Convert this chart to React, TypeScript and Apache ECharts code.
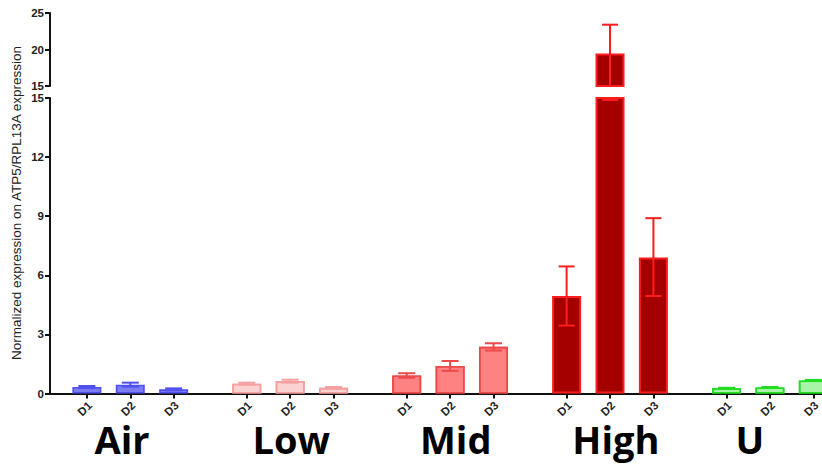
import React, { useEffect, useRef } from 'react';
import * as echarts from 'echarts';

// ---- data ----
const groups = ['Air', 'Low', 'Mid', 'High', 'U'];
const doses = ['D1', 'D2', 'D3'];
const airMeans = [0.33, 0.45, 0.21];
const airLo = [0.28, 0.35, 0.16];
const airHi = [0.38, 0.55, 0.26];
const lowMeans = [0.5, 0.63, 0.29];
const lowLo = [0.45, 0.55, 0.25];
const lowHi = [0.55, 0.7, 0.33];
const midMeans = [0.92, 1.4, 2.37];
const midLo = [0.8, 1.15, 2.18];
const midHi = [1.03, 1.65, 2.55];
const highMeans = [4.95, 19.45, 6.9];
const highLo = [3.45, 14.9, 4.95];
const highHi = [6.45, 23.4, 8.9];
const uMeans = [0.27, 0.31, 0.66];
const uLo = [0.25, 0.29, 0.63];
const uHi = [0.29, 0.33, 0.69];
const lowerTicks = [0, 3, 6, 9, 12, 15];
const upperTicks = [15, 20, 25];
const groupLabelX = [0.81, 4.71, 8.5, 12.19, 15.28];
const yTitle = 'Normalized expression on ATP5/RPL13A expression';

const means = [airMeans, lowMeans, midMeans, highMeans, uMeans];
const los = [airLo, lowLo, midLo, highLo, uLo];
const his = [airHi, lowHi, midHi, highHi, uHi];

// ---- styles ----
const fills = ['#7b7bf6', '#fbd2d2', '#ff8282', '#a40000', '#a8f5a8'];
const borders = ['#5050ee', '#f5a0a0', '#ee4a4a', '#ff1c1c', '#22dd22'];
const decals: any[] = [
  null,
  { symbol: 'circle', symbolSize: 0.5, color: 'rgba(235,150,150,0.45)', dashArrayX: [2, 2], dashArrayY: [2, 2] },
  { symbol: 'circle', symbolSize: 0.5, color: 'rgba(215,60,60,0.35)', dashArrayX: [2, 2], dashArrayY: [2, 2] },
  null,
  { symbol: 'circle', symbolSize: 0.5, color: 'rgba(60,200,60,0.35)', dashArrayX: [2, 2], dashArrayY: [2, 2] },
];
const GROUP_STEP = 3.685;
const X_MIN = -0.85;
const X_MAX = 16.94;
const FONT = '"Liberation Sans", Arial, sans-serif';

function pos(g: number, i: number) {
  return g * GROUP_STEP + i;
}

export default function App() {
  const ref = useRef<HTMLDivElement>(null);
  useEffect(() => {
    if (!ref.current) return;
    const chart = echarts.init(ref.current, undefined, { renderer: 'svg' });

    const tickPositions: number[] = [];
    const tickLabelData: number[][] = [];
    const barData: any[] = [];
    const barDataTop: any[] = [];
    const errData: number[][] = [];
    groups.forEach((_, g) => {
      doses.forEach((d, i) => {
        const x = pos(g, i);
        tickPositions.push(x);
        tickLabelData.push([x, 0, i]);
        const item = {
          value: [x, means[g][i]],
          itemStyle: {
            color: fills[g],
            borderColor: borders[g],
            borderWidth: g === 3 ? 2 : 1.6,
            ...(decals[g] ? { decal: decals[g] } : {}),
          },
        };
        barData.push(item);
        if (means[g][i] > 15) barDataTop.push(item);
        errData.push([x, los[g][i], his[g][i], g]);
      });
    });

    const errSeries = (idx: number, vmin: number, vmax: number) => ({
      type: 'custom',
      xAxisIndex: idx,
      yAxisIndex: idx,
      z: 5,
      data: errData,
      renderItem: (params: any, api: any) => {
        const x = api.value(0);
        const lo0 = api.value(1);
        const hi0 = api.value(2);
        const g = api.value(3);
        const lo = Math.max(lo0, vmin);
        const hi = Math.min(hi0, vmax);
        if (lo >= hi) return null;
        const pLo = api.coord([x, lo]);
        const pHi = api.coord([x, hi]);
        const half = g === 3 ? 8 : 8.5;
        const style = { stroke: borders[g], lineWidth: 2 };
        const children: any[] = [
          { type: 'line', shape: { x1: pLo[0], y1: pLo[1], x2: pHi[0], y2: pHi[1] }, style },
        ];
        if (lo0 >= vmin) children.push({ type: 'line', shape: { x1: pLo[0] - half, y1: pLo[1], x2: pLo[0] + half, y2: pLo[1] }, style });
        if (hi0 <= vmax) children.push({ type: 'line', shape: { x1: pHi[0] - half, y1: pHi[1], x2: pHi[0] + half, y2: pHi[1] }, style });
        return { type: 'group', children };
      },
    });

    const groupLabelData = groups.map((name, g) => [groupLabelX[g], 0, g]);

    const axisLineStyle = { color: '#111', width: 2 };
    const yLabel = { margin: 6, fontSize: 11.5, fontWeight: 'bold', color: '#222', fontFamily: FONT };
    const titleGraphic = {
      type: 'text',
      x: 16.5,
      y: 203,
      rotation: Math.PI / 2,
      style: {
        text: yTitle,
        fontSize: 13.5,
        fontFamily: FONT,
        fill: '#222',
        align: 'center',
        verticalAlign: 'middle',
      },
    };
    const option: any = {
      animation: false,
      backgroundColor: '#ffffff',
      grid: [
        { left: 50, right: 0, top: 13, height: 73 },
        { left: 50, right: 0, top: 98, bottom: 71.5 },
      ],
      xAxis: [
        { type: 'value', gridIndex: 0, min: X_MIN, max: X_MAX, show: false },
        {
          type: 'value',
          gridIndex: 1,
          min: X_MIN,
          max: X_MAX,
          splitLine: { show: false },
          axisLine: { show: true, onZero: false, lineStyle: axisLineStyle },
          axisTick: { show: true, length: 5, lineStyle: { color: '#111', width: 2 }, customValues: tickPositions },
          axisLabel: { show: false },
        },
      ],
      yAxis: [
        {
          type: 'value',
          gridIndex: 0,
          min: 15,
          max: 25,
          interval: 5,
          splitLine: { show: false },
          axisLine: { show: true, onZero: false, lineStyle: axisLineStyle },
          axisTick: { show: true, length: 5, lineStyle: { color: '#111', width: 2 } },
          axisLabel: { ...yLabel, customValues: upperTicks },
        },
        {
          type: 'value',
          gridIndex: 1,
          min: 0,
          max: 15,
          interval: 3,
          splitLine: { show: false },
          axisLine: { show: true, onZero: false, lineStyle: axisLineStyle },
          axisTick: { show: true, length: 5, lineStyle: { color: '#111', width: 2 } },
          axisLabel: { ...yLabel, customValues: lowerTicks },
        },
      ],
      series: [
        { type: 'bar', xAxisIndex: 0, yAxisIndex: 0, barWidth: 29, data: barDataTop, clip: true, z: 2 },
        { type: 'bar', xAxisIndex: 1, yAxisIndex: 1, barWidth: 29, data: barData, clip: true, z: 2 },
        errSeries(0, 15, 25),
        errSeries(1, 0, 15),
        {
          type: 'custom',
          xAxisIndex: 1,
          yAxisIndex: 1,
          clip: false,
          data: groupLabelData,
          renderItem: (params: any, api: any) => {
            const p = api.coord([api.value(0), 0]);
            return {
              type: 'text',
              x: p[0],
              y: p[1] + 45.5,
              style: {
                text: groups[api.value(2)],
                fontSize: 38,
                fontWeight: 'bold',
                fontFamily: '"Open Sans", sans-serif',
                fill: '#000',
                align: 'center',
                verticalAlign: 'middle',
              },
            };
          },
        },
      ],
      graphic: [titleGraphic],
    };
    chart.setOption(option);

    // rotated dose labels under each tick, placed through the axis scale
    const tickTexts = tickLabelData.map((d) => {
      const p = chart.convertToPixel({ gridIndex: 1 } as any, [d[0], 0]) as number[];
      return {
        type: 'text',
        x: p[0] + 3,
        y: p[1] + 10,
        rotation: Math.PI / 4,
        style: {
          text: doses[d[2]],
          fontSize: 11.5,
          fontWeight: 'bold',
          fontFamily: FONT,
          fill: '#222',
          align: 'right',
          verticalAlign: 'middle',
        },
      };
    });
    chart.setOption({ graphic: [titleGraphic, ...tickTexts] });
    return () => chart.dispose();
  }, []);
  return <div ref={ref} style={{ width: 822, height: 465, position: 'absolute', left: 0, top: 0 }} />;
}
